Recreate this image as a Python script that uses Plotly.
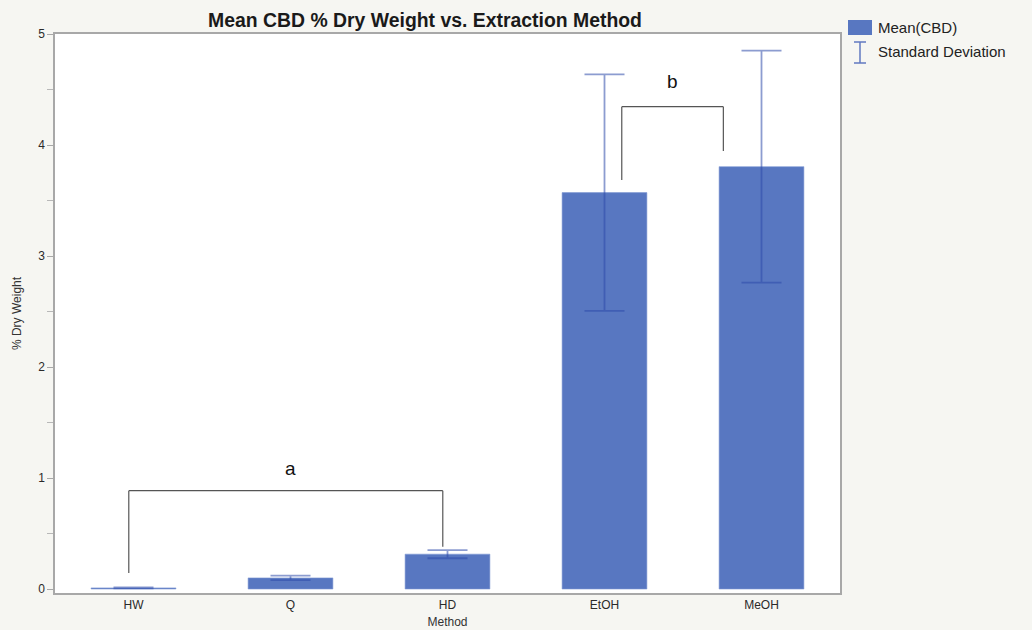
import plotly.graph_objects as go

# Mean CBD content (% dry weight) per extraction method, with standard deviations
methods = ["HW", "Q", "HD", "EtOH", "MeOH"]
mean_cbd = [0.01, 0.10, 0.314, 3.571, 3.805]
sd_cbd = [0.004, 0.02, 0.037, 1.066, 1.045]

# Significance groups:
# (label, left x, left foot y, right x, right foot y, bar y, label x, label y)
groups = [
    ("a", -0.03, 0.144, 1.97, 0.38, 0.886, 1.0, 1.09),
    ("b", 3.11, 3.685, 3.757, 3.946, 4.345, 3.43, 4.57),
]

FONT = "Liberation Sans, Arial, sans-serif"
BAR_COLOR = "#5877c1"
ERR_COLOR = "rgba(45,75,170,0.55)"
PAPER = "#f6f6f2"

# Plot-area geometry in pixels, used to place the legend in paper units
PL, PR, PT, PB = 55, 840, 34, 593


def px_x(px):
    return (px - PL) / (PR - PL)


def px_y(py):
    return (PB - py) / (PB - PT)


fig = go.Figure()
fig.add_trace(go.Bar(
    x=methods, y=mean_cbd, width=0.54,
    marker=dict(color=BAR_COLOR, line=dict(color="#7f98d4", width=0.6)),
    error_y=dict(type="data", array=sd_cbd, visible=True,
                 color=ERR_COLOR, thickness=1.8, width=20),
    showlegend=False, hoverinfo="x+y",
))

shapes = []
annotations = []
for label, xl, yl, xr, yr, ybar, xlab, ylab in groups:
    for seg in [(xl, yl, xl, ybar), (xl, ybar, xr, ybar), (xr, ybar, xr, yr)]:
        shapes.append(dict(type="line", xref="x", yref="y",
                           x0=seg[0], y0=seg[1], x1=seg[2], y1=seg[3],
                           line=dict(color="#555555", width=1.2)))
    annotations.append(dict(x=xlab, y=ylab, xref="x", yref="y",
                            text=label, showarrow=False,
                            font=dict(family=FONT, size=19, color="#111111")))

# Hand-drawn legend to the right of the plot area
shapes.append(dict(type="rect", xref="paper", yref="paper",
                   x0=px_x(848), x1=px_x(872), y0=px_y(35), y1=px_y(20),
                   fillcolor=BAR_COLOR, line=dict(width=0)))
ib = 860
for x0, y0, x1, y1 in [(ib, 42, ib, 63), (ib - 6, 42, ib + 6, 42), (ib - 6, 63, ib + 6, 63)]:
    shapes.append(dict(type="line", xref="paper", yref="paper",
                       x0=px_x(x0), y0=px_y(y0), x1=px_x(x1), y1=px_y(y1),
                       line=dict(color="#6078c0", width=1.5)))
for text, py in [("Mean(CBD)", 27), ("Standard Deviation", 52)]:
    annotations.append(dict(x=px_x(876), y=px_y(py), xref="paper", yref="paper",
                            xanchor="left", yanchor="middle", text=text, showarrow=False,
                            font=dict(family=FONT, size=15, color="#222222")))

fig.update_layout(
    width=1032, height=630,
    margin=dict(l=PL, r=1032 - PR, t=PT, b=630 - PB, autoexpand=False),
    paper_bgcolor=PAPER, plot_bgcolor="white",
    title=dict(text="<b>Mean CBD % Dry Weight vs. Extraction Method</b>",
               x=425 / 1032, xanchor="center", xref="container",
               y=1 - 20 / 630, yanchor="middle", yref="container",
               font=dict(family=FONT, size=19.4, color="#1a1a1a")),
    font=dict(family=FONT, color="#333333"),
    shapes=shapes, annotations=annotations,
    showlegend=False,
)
fig.update_xaxes(
    range=[-0.5, 4.5], showline=True, linecolor="#a8a8a8", linewidth=1.5,
    mirror=True, ticks="", showgrid=False, zeroline=False, automargin=False,
    tickfont=dict(family=FONT, size=12, color="#2a2a2a"),
    title=dict(text="Method", standoff=6, font=dict(family=FONT, size=12, color="#333333")),
)
fig.update_yaxes(
    range=[-0.036, 5.0], showline=True, linecolor="#a8a8a8", linewidth=1.5,
    mirror=True, ticks="outside", ticklen=6, tickcolor="#a8a8a8",
    tickvals=[0, 1, 2, 3, 4, 5], showgrid=False, zeroline=False, automargin=False,
    minor=dict(tickvals=[0.5, 1.5, 2.5, 3.5, 4.5], ticks="outside", ticklen=6,
               tickcolor="#b8b8b8"),
    tickfont=dict(family=FONT, size=12, color="#2a2a2a"),
    title=dict(text="% Dry Weight", standoff=14, font=dict(family=FONT, size=12, color="#333333")),
)

fig.write_html("out.html")
